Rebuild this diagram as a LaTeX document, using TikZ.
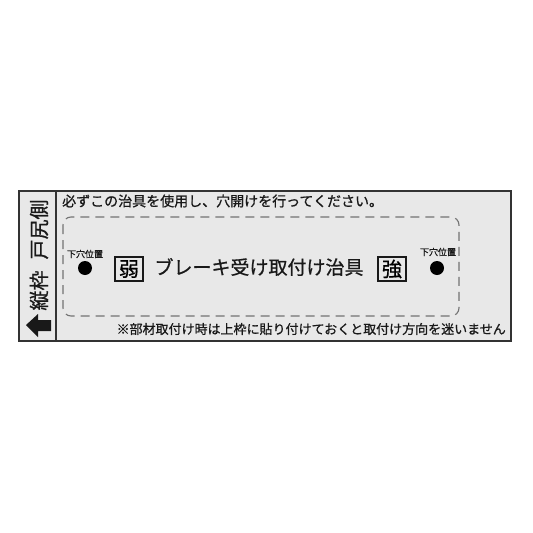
\documentclass[tikz,border=0pt]{standalone}
\usepackage{fontspec}
\newfontfamily\jpfont[FakeBold=0.8]{Noto Sans CJK JP}
\tikzset{
  label text/.style={inner sep=0pt, text=black!90, font=\jpfont},
  box char/.style={draw=black!90, line width=1.3pt, inner sep=1pt, minimum width=28pt, minimum height=24pt, font=\jpfont\fontsize{20}{20}\selectfont},
  hole/.style={circle, fill=black, inner sep=0pt, minimum size=14pt}
}
\begin{document}
\begin{tikzpicture}[x=1pt,y=-1pt]
\useasboundingbox (0,0) rectangle (533,533);

% frame
\draw[line width=1.6pt, draw=black!80, fill=black!9] (19,191) rectangle (511,341);
\draw[line width=1.2pt, draw=black!80] (56,191) -- (56,341);

% left panel
\draw (39,255) node(SIDE)[label text, rotate=90]{\fontsize{20}{20}\selectfont 縦枠\hspace{0.55em}戸尻側};
\fill[black!90] (26,325) -- (38,314) -- (38,320) -- (51,320) -- (51,331) -- (38,331) -- (38,337) -- cycle;

% jig outline
\draw[dashed, dash pattern=on 9pt off 6pt, line width=1.1pt, draw=black!55, rounded corners=8pt] (63,217) rectangle (459,316);

\draw (62,201) node(TOP)[label text, anchor=west]{\fontsize{14}{14}\selectfont 必ずこの治具を使用し、穴開けを行ってください。};
\draw (259,267) node(TITLE)[label text]{\fontsize{19}{19}\selectfont ブレーキ受け取付け治具};
\draw (129,269) node(WEAK)[box char]{弱};
\draw (392,269) node(STRONG)[box char]{強};

\draw (85,268) node(HOLEL)[hole]{};
\draw (437,268) node(HOLER)[hole]{};
\draw (85,254) node(POSL)[label text]{\fontsize{9}{9}\selectfont 下穴位置};
\draw (438,252) node(POSR)[label text]{\fontsize{9}{9}\selectfont 下穴位置};

\draw (506,329) node(NOTE)[label text, anchor=east]{\fontsize{13}{13}\selectfont ※部材取付け時は上枠に貼り付けておくと取付け方向を迷いません};

\end{tikzpicture}
\end{document}
